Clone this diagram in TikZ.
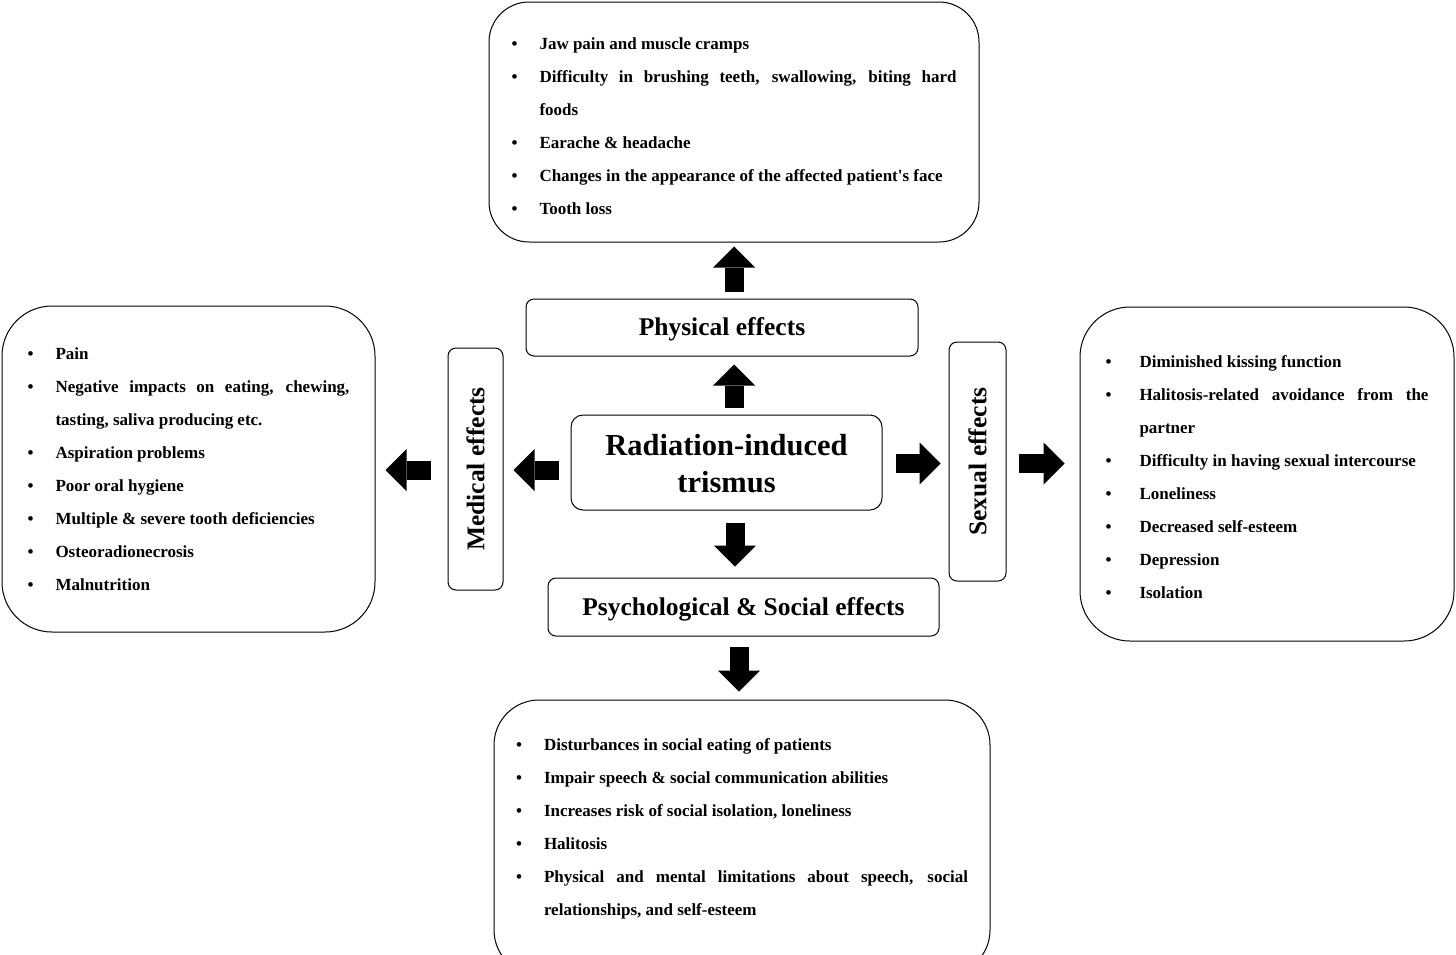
\documentclass[tikz,border=0pt]{standalone}
\usepackage{fontspec}
\setmainfont{Liberation Serif}
\usetikzlibrary{arrows.meta, positioning}

\newenvironment{effectlist}[1][28pt]{%
  \begin{list}{\textbullet}{\setlength{\leftmargin}{#1}\setlength{\labelwidth}{6pt}%
    \setlength{\labelsep}{\dimexpr#1-6pt\relax}\setlength{\itemsep}{0pt}%
    \setlength{\parsep}{0pt}\setlength{\topsep}{0pt}\setlength{\partopsep}{0pt}}%
  \hyphenpenalty=10000\exhyphenpenalty=10000}%
  {\end{list}}
\newcommand{\padbelow}[1]{\par\vspace*{#1}\hrule height 0pt depth 0pt width 0pt}

\begin{document}
\begin{tikzpicture}[x=1pt, y=-1pt,
        listbox/.style={rectangle, rounded corners=45pt, draw, line width=1pt, align=justify, inner sep=0pt,
            font=\bfseries\fontsize{17}{33}\selectfont},
        labelbox/.style={rectangle, rounded corners=8pt, draw, line width=1pt, align=center,
            font=\bfseries\fontsize{25.5}{30}\selectfont},
        fatarrow/.style={line width=19pt, -{Triangle[width=42pt, length=21pt, line width=0pt]}}]
        \useasboundingbox (0,0) rectangle (1456,954);
        % centre and label boxes
        \node[labelbox, rounded corners=12pt, minimum width=311pt, minimum height=95pt,
            font=\bfseries\fontsize{30.5}{37}\selectfont] (ctr) at (726.5,462.5) {\rule{0pt}{24pt}Radiation-induced\\trismus};
        \node[labelbox, minimum width=392pt, minimum height=57pt] (phys) at (722,327.5) {\rule{0pt}{22pt}Physical effects};
        \node[labelbox, minimum width=391pt, minimum height=58pt] (psy) at (743.5,607) {\rule{0pt}{22pt}Psychological \& Social effects};
        \node[labelbox, rotate=90, minimum width=242pt, minimum height=55pt] (med) at (475.5,469) {Medical effects};
        \node[labelbox, rotate=90, minimum width=239pt, minimum height=57pt] (sex) at (977.5,461.5) {Sexual effects};
        % list boxes
        \node[listbox, rounded corners=40pt, text width=445pt, minimum width=490pt, minimum height=240pt] (physlist) at (734,122) {%
            \begin{effectlist}
            \item Jaw pain and muscle cramps
            \item Difficulty in brushing teeth, swallowing, biting hard\linebreak foods
            \item Earache \& headache
            \item Changes in the appearance of the affected patient\textquotesingle s face
            \item Tooth loss
            \end{effectlist}\padbelow{12pt}};
        \node[listbox, rounded corners=50pt, text width=322pt, minimum width=373pt, minimum height=326pt] (medlist) at (188.5,469) {%
            \begin{effectlist}
            \item Pain
            \item Negative impacts on eating, chewing, tasting, saliva producing etc.
            \item Aspiration problems
            \item Poor oral hygiene
            \item Multiple \& severe tooth deficiencies
            \item Osteoradionecrosis
            \item Malnutrition
            \end{effectlist}\padbelow{20pt}};
        \node[listbox, rounded corners=50pt, text width=323pt, minimum width=374pt, minimum height=334pt] (sexlist) at (1267,474) {%
            \begin{effectlist}[34pt]
            \item Diminished kissing function
            \item Halitosis-related avoidance from the partner
            \item Difficulty in having sexual intercourse
            \item Loneliness
            \item Decreased self-esteem
            \item Depression
            \item Isolation
            \end{effectlist}\padbelow{14pt}};
        \node[listbox, rounded corners=45pt, text width=452pt, minimum width=496pt, minimum height=275pt] (psylist) at (742,837.5) {%
            \begin{effectlist}
            \item Disturbances in social eating of patients
            \item Impair speech \& social communication abilities
            \item Increases risk of social isolation, loneliness
            \item Halitosis
            \item Physical and mental limitations about speech, social relationships, and self-esteem
            \end{effectlist}\padbelow{38pt}};
        % block arrows
        \draw[fatarrow, shorten <=7pt, shorten >=8pt] (ctr.north -| 734,0) -- (phys.south -| 734,0);
        \draw[fatarrow, shorten <=7pt, shorten >=4pt] (phys.north -| 734,0) -- (physlist.south -| 734,0);
        \draw[fatarrow, shorten <=12pt, shorten >=11pt] (ctr.south -| 735,0) -- (psy.north -| 735,0);
        \draw[fatarrow, shorten <=10pt, shorten >=8pt] (psy.south -| 739,0) -- (psylist.north -| 739,0);
        \draw[fatarrow, shorten <=12pt, shorten >=10pt] (ctr.west |- 0,470) -- (med.south |- 0,470);
        \draw[fatarrow, shorten <=17pt, shorten >=10pt] (med.north |- 0,470) -- (medlist.east |- 0,470);
        \draw[fatarrow, shorten <=13pt, shorten >=8pt] (ctr.east |- 0,463.5) -- (sex.north |- 0,463.5);
        \draw[fatarrow, shorten <=12pt, shorten >=15pt] (sex.south |- 0,463.5) -- (sexlist.west |- 0,463.5);
    \end{tikzpicture}
\end{document}
